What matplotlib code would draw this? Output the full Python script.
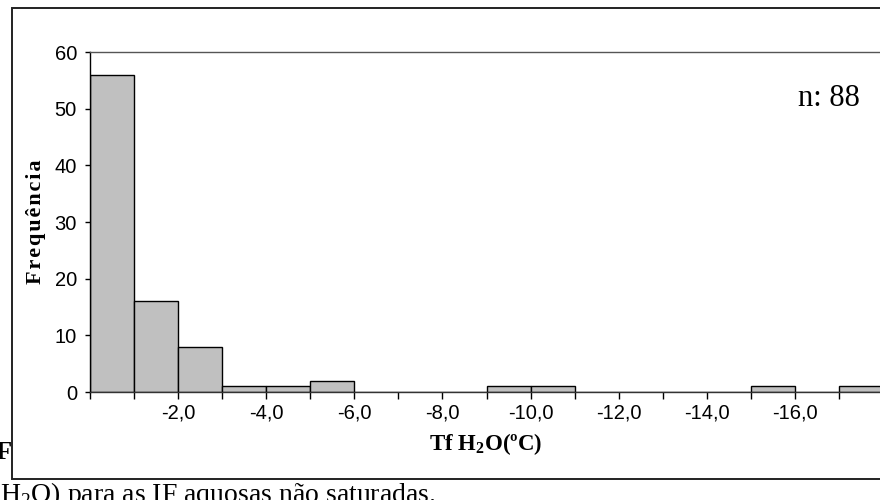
import numpy as np
import matplotlib
matplotlib.use("Agg")
import matplotlib.pyplot as plt
from matplotlib.patches import Rectangle

# histogram of ice melting temperature (Tf H2O), 1 degree bins going negative
bin_start = [0, -1, -2, -3, -4, -5, -6, -7, -8, -9, -10, -11, -12, -13, -14, -15, -16, -17]
freq = [56, 16, 8, 1, 1, 2, 0, 0, 0, 1, 1, 0, 0, 0, 0, 1, 0, 1]
x_ticks = list(range(0, -19, -1))
x_labels = ["%d,0" % t if (t % 2 == 0 and -18 < t < 0) else "" for t in x_ticks]
y_ticks = [0, 10, 20, 30, 40, 50, 60]
n_text = "n: 88"

plt.rcParams['mathtext.fontset'] = 'custom'
plt.rcParams['mathtext.rm'] = 'Liberation Serif'
plt.rcParams['mathtext.bf'] = 'Liberation Serif:bold'

W, H = 880, 500
fig = plt.figure(figsize=(8.8, 5.0), dpi=100)

# document text sitting behind the chart frame
fig.text(-0.005, 1 - 459 / H, "Figura", fontsize=19, fontweight='bold',
         family='Liberation Serif', va='baseline', ha='left', zorder=-3)
fig.text(0.0, 1 - 502 / H, "H$_2$O) para as IF aquosas não saturadas.", fontsize=20,
         family='Liberation Serif', va='baseline', ha='left', zorder=-3)

# chart frame (white, covers the text behind it)
frame = Rectangle((12 / W, 1 - 479 / H), 1.0, (479 - 8) / H, transform=fig.transFigure,
                  facecolor='white', edgecolor='#222222', lw=1.4, zorder=-1)
fig.patches.append(frame)

ax = fig.add_axes([90 / W, 1 - 392 / H, 793 / W, 340 / H])
ax.set_facecolor('none')

ax.bar(bin_start, freq, width=-1, align='edge', color='#c0c0c0',
       edgecolor='black', linewidth=1.0, zorder=2)

ax.set_xlim(0, -18)
ax.set_ylim(0, 60)

ax.set_xticks(x_ticks)
ax.set_xticklabels(x_labels)
ax.set_yticks(y_ticks)

for lab in ax.get_xticklabels() + ax.get_yticklabels():
    lab.set_family('Liberation Sans')
    lab.set_fontsize(14.5)

ax.tick_params(axis='x', direction='out', length=5, width=1, colors='black', pad=3)
ax.tick_params(axis='y', direction='out', length=3.6, width=1, colors='black', pad=5.8)

ax.spines['left'].set_color('black')
ax.spines['bottom'].set_color('#333333')
ax.spines['top'].set_color('#555555')
ax.spines['right'].set_visible(False)
for s in ax.spines.values():
    s.set_linewidth(1.0)

ax.set_ylabel("F\u200ar\u200ae\u200aq\u200au\u200aê\u200an\u200ac\u200ai\u200aa", fontsize=16,
              fontweight='bold', family=['Liberation Serif', 'DejaVu Serif'])
ax.yaxis.set_label_coords((46 - 90) / 793, 0.5)

ax.set_xlabel(r"Tf H$_\mathbf{2}$O(ºC)", fontsize=16.5, fontweight='bold', family='Liberation Serif')
ax.xaxis.set_label_coords((486 - 90) / 793, (392 - 431) / 340)

ax.text((829 - 90) / 793, (392 - 98) / 340, n_text, transform=ax.transAxes,
        fontsize=22, family='Liberation Serif', ha='center', va='center')

fig.savefig("out.png", dpi=100)
